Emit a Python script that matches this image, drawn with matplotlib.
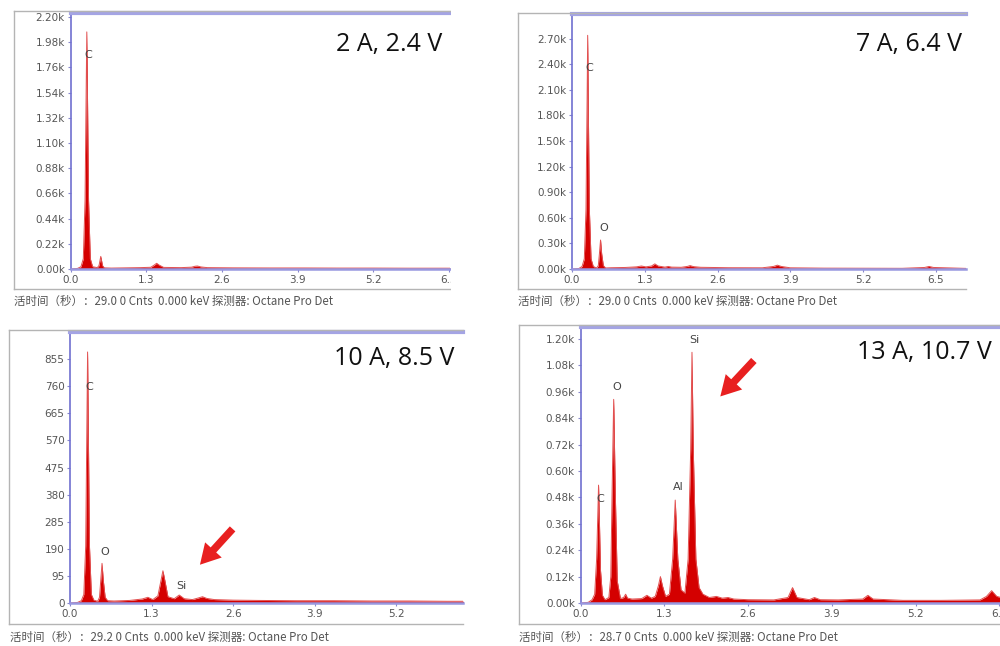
import matplotlib
matplotlib.use("Agg")
import matplotlib.pyplot as plt
from matplotlib.lines import Line2D
from matplotlib.patches import Rectangle

# ---- data (keV, counts) ----
kev1 = [0.00, 0.12, 0.18, 0.22, 0.25, 0.27, 0.28, 0.29, 0.31, 0.34, 0.38, 0.46, 0.49, 0.52, 0.55, 0.58,
        0.70, 0.95, 1.20, 1.38, 1.44, 1.48, 1.52, 1.60, 1.90, 2.08, 2.14, 2.18, 2.24, 2.35, 2.80, 3.40,
        4.00, 4.60, 5.20, 5.80, 6.40, 7.00]
cts1 = [0, 5, 20, 90, 600, 1600, 2070, 1600, 600, 90, 20, 12, 30, 110, 30, 10,
        8, 10, 12, 15, 35, 50, 35, 14, 12, 16, 24, 26, 18, 12, 10, 9,
        9, 8, 8, 7, 7, 6]

kev2 = [0.00, 0.12, 0.18, 0.22, 0.25, 0.27, 0.28, 0.29, 0.31, 0.34, 0.38, 0.44, 0.47, 0.49, 0.51, 0.53,
        0.56, 0.60, 0.70, 0.95, 1.15, 1.24, 1.32, 1.42, 1.48, 1.54, 1.66, 1.72, 1.78, 1.95, 2.06, 2.11,
        2.17, 2.30, 2.80, 3.40, 3.60, 3.67, 3.74, 3.90, 4.50, 5.20, 5.90, 6.30, 6.38, 6.46, 7.10]
cts2 = [0, 5, 30, 120, 700, 2000, 2740, 2000, 700, 120, 30, 12, 40, 180, 340, 180,
        40, 12, 15, 18, 25, 35, 25, 35, 60, 35, 22, 30, 22, 20, 30, 40,
        28, 20, 15, 14, 30, 45, 30, 14, 10, 9, 8, 18, 30, 18, 6]

kev3 = [0.00, 0.12, 0.18, 0.22, 0.25, 0.27, 0.28, 0.29, 0.31, 0.34, 0.38, 0.44, 0.47, 0.49, 0.51, 0.53,
        0.56, 0.60, 0.70, 0.95, 1.15, 1.24, 1.32, 1.40, 1.45, 1.48, 1.51, 1.56, 1.66, 1.74, 1.82, 1.95,
        2.05, 2.11, 2.18, 2.30, 2.60, 3.00, 3.60, 4.20, 4.80, 5.40, 6.00, 6.40]
cts3 = [0, 2, 8, 30, 200, 650, 880, 650, 200, 30, 10, 6, 20, 80, 139, 80,
        20, 8, 7, 9, 14, 20, 12, 25, 80, 113, 80, 22, 15, 28, 15, 12,
        18, 22, 16, 12, 10, 9, 8, 8, 7, 7, 6, 6]

kev4 = [0.00, 0.12, 0.18, 0.22, 0.25, 0.27, 0.28, 0.29, 0.31, 0.34, 0.38, 0.44, 0.47, 0.49, 0.515, 0.54,
        0.57, 0.62, 0.67, 0.70, 0.73, 0.80, 0.95, 1.03, 1.10, 1.16, 1.21, 1.24, 1.27, 1.32, 1.38, 1.43,
        1.47, 1.51, 1.56, 1.62, 1.67, 1.71, 1.73, 1.75, 1.79, 1.84, 1.90, 2.00, 2.11, 2.20, 2.29, 2.38,
        2.60, 3.00, 3.22, 3.29, 3.36, 3.55, 3.63, 3.72, 4.00, 4.38, 4.46, 4.54, 5.00, 5.60, 6.20, 6.30,
        6.38, 6.46, 6.70]
cts4 = [0, 3, 15, 40, 200, 420, 536, 420, 150, 35, 15, 25, 120, 500, 926, 500,
        100, 20, 25, 40, 22, 18, 20, 35, 22, 30, 80, 120, 80, 30, 40, 200,
        468, 200, 60, 45, 200, 700, 1140, 700, 200, 70, 40, 25, 30, 22, 25, 18,
        15, 14, 25, 70, 25, 15, 25, 15, 14, 18, 35, 18, 12, 12, 14, 30,
        56, 30, 12]

conditions = ["2 A, 2.4 V", "7 A, 6.4 V", "10 A, 8.5 V", "13 A, 10.7 V"]
footers = ["活时间（秒）：29.0 0 Cnts  0.000 keV 探测器: Octane Pro Det",
           "活时间（秒）：29.0 0 Cnts  0.000 keV 探测器: Octane Pro Det",
           "活时间（秒）：29.2 0 Cnts  0.000 keV 探测器: Octane Pro Det",
           "活时间（秒）：28.7 0 Cnts  0.000 keV 探测器: Octane Pro Det"]

# element labels: (name, keV, counts)
labels1 = [("C", 0.30, 1870)]
labels2 = [("C", 0.31, 2360), ("O", 0.57, 485)]
labels3 = [("C", 0.31, 758), ("O", 0.56, 180), ("Si", 1.77, 61)]
labels4 = [("C", 0.31, 471), ("O", 0.56, 983), ("Al", 1.52, 529), ("Si", 1.77, 1195)]

W, H = 1000, 646
fig = plt.figure(figsize=(10, 6.46), dpi=100)
fig.patch.set_facecolor("white")

def fx(px):
    return px / W

def fy(py):
    return 1 - py / H

def box(l, t, r, b):
    return [fx(l), fy(b), fx(r) - fx(l), fy(t) - fy(b)]

# panel geometry in pixels: axes (l, t, r, b), xlim max, ylim max, outer frame (l, t, r, b)
panels = [
    dict(ax=(70.5, 13, 450, 269), xmax=6.52, ymax=2235, yticks=range(0, 2201, 220), fmt="k",
         frame=(14, 11, 451, 289), kev=kev1, cts=cts1, labels=labels1, cond=(442, 45), foot=(14, 301)),
    dict(ax=(572, 14, 966, 269), xmax=7.04, ymax=2990, yticks=range(0, 2701, 300), fmt="k",
         frame=(518, 13, 966, 289), kev=kev2, cts=cts2, labels=labels2, cond=(962, 45), foot=(518, 301)),
    dict(ax=(70, 332, 463, 603), xmax=6.26, ymax=950, yticks=range(0, 856, 95), fmt="int",
         frame=(9, 330, 463, 624), kev=kev3, cts=cts3, labels=labels3, cond=(454, 358), foot=(10, 637)),
    dict(ax=(580.5, 327, 1000, 603), xmax=6.51, ymax=1255, yticks=range(0, 1201, 120), fmt="k",
         frame=(519, 325, 1000, 624), kev=kev4, cts=cts4, labels=labels4, cond=(992, 352), foot=(519, 637)),
]

xticks = [0.0, 1.3, 2.6, 3.9, 5.2, 6.5]
axes = []
for i, p in enumerate(panels):
    ax = fig.add_axes(box(*p["ax"]))
    axes.append(ax)
    ax.fill_between(p["kev"], p["cts"], 0, color="#d40000", linewidth=0)
    ax.plot(p["kev"], p["cts"], color="#e25050", linewidth=0.7)
    ax.set_xticks(xticks)
    ax.set_xticklabels(["%.1f" % t for t in xticks])
    ax.set_yticks(list(p["yticks"]))
    if p["fmt"] == "k":
        ax.set_yticklabels(["%.2fk" % (t / 1000) for t in p["yticks"]])
    else:
        ax.set_yticklabels([str(t) for t in p["yticks"]])
    # limits after the ticks, or set_xticks widens the view
    ax.set_xlim(0, p["xmax"])
    ax.set_ylim(0, p["ymax"])
    ax.tick_params(axis="both", labelsize=7.5, labelcolor="#555555", color="#8888cc", length=2, pad=2)
    ax.spines["right"].set_visible(False)
    ax.spines["top"].set_color("#a4a4e4")
    ax.spines["top"].set_linewidth(3)
    ax.spines["left"].set_color("#7070d0")
    ax.spines["left"].set_linewidth(1.2)
    ax.spines["bottom"].set_color("#9898e0")
    ax.spines["bottom"].set_linewidth(1.8)
    for name, x, y in p["labels"]:
        ax.text(x, y, name, fontsize=8, color="#444444", ha="center", va="center")

    # outer grey frame (right side is cut off in the source)
    l, t, r, b = p["frame"]
    fig.add_artist(Line2D([fx(l), fx(l)], [fy(t), fy(b)], color="#b4b4b4", lw=1))
    fig.add_artist(Line2D([fx(l), fx(r)], [fy(t), fy(t)], color="#b4b4b4", lw=1))
    fig.add_artist(Line2D([fx(l), fx(r)], [fy(b), fy(b)], color="#b4b4b4", lw=1))

    cx, cy = p["cond"]
    fig.text(fx(cx), fy(cy), conditions[i], fontsize=18, family="Open Sans", color="#111111",
             ha="right", va="center", zorder=10)
    fx0, fy0 = p["foot"]
    fig.text(fx(fx0), fy(fy0), footers[i], fontsize=8.3, family=["Noto Sans CJK SC", "DejaVu Sans"],
             color="#555555", ha="left", va="center")

# red arrows pointing at the Si peak
arrow = dict(arrowstyle="simple,head_length=0.8,head_width=0.9,tail_width=0.3",
             color="#e82020", linewidth=0, mutation_scale=18)
axes[2].annotate("", xy=(2.04, 127), xytext=(2.62, 267), arrowprops=arrow)
axes[3].annotate("", xy=(2.14, 930), xytext=(2.72, 1112), arrowprops=arrow)

# white strip: the source picture cuts the first panel at its right edge
fig.add_artist(Rectangle((fx(451), fy(310)), fx(514) - fx(451), fy(0) - fy(310),
                         transform=fig.transFigure, facecolor="white", edgecolor="none", zorder=20))

fig.savefig("out.png", dpi=100)
